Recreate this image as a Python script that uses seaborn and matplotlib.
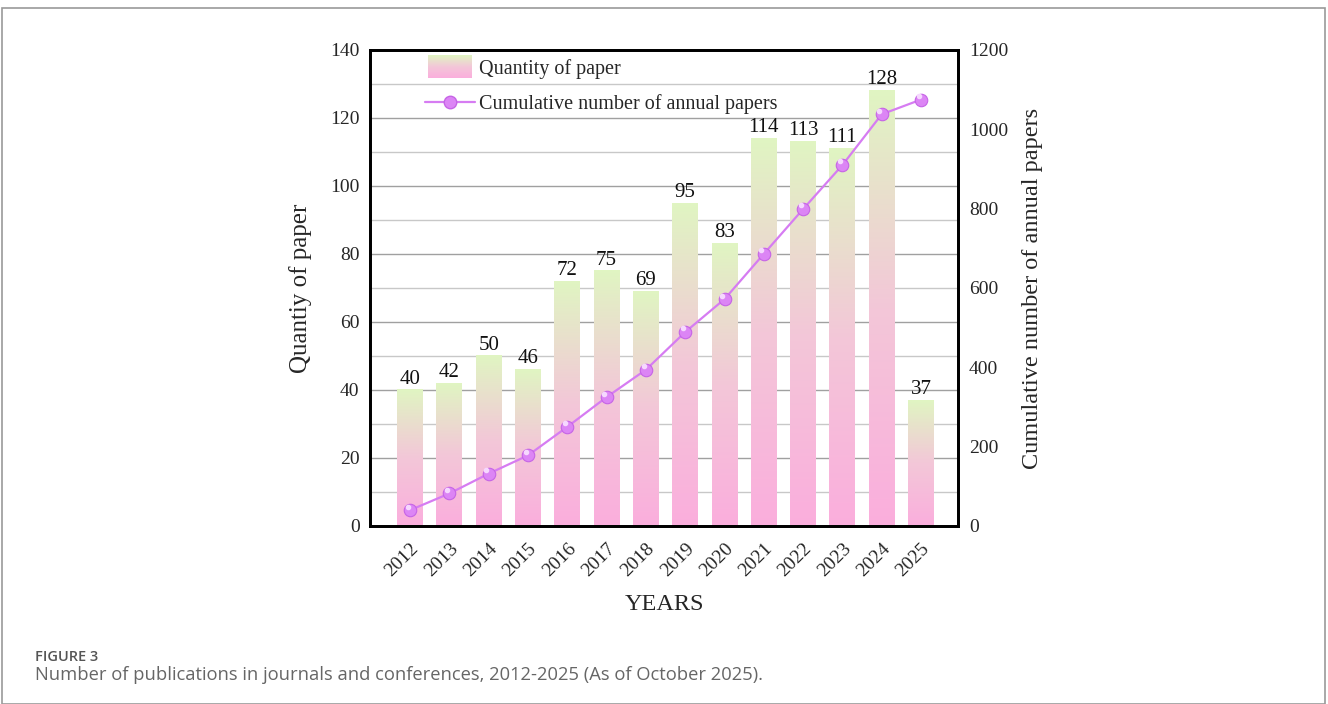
import numpy as np
import pandas as pd
import matplotlib
matplotlib.use("Agg")
import matplotlib.pyplot as plt
import seaborn as sns
from matplotlib.legend_handler import HandlerBase
from matplotlib.image import BboxImage
from matplotlib.transforms import Bbox, TransformedBbox
from matplotlib.patches import Patch, Rectangle
from matplotlib.lines import Line2D
from matplotlib.colors import LinearSegmentedColormap

years = ["2012", "2013", "2014", "2015", "2016", "2017", "2018",
         "2019", "2020", "2021", "2022", "2023", "2024", "2025"]
papers = [40, 42, 50, 46, 72, 75, 69, 95, 83, 114, 113, 111, 128, 37]
cumulative = [40, 82, 132, 178, 250, 325, 394, 489, 572, 686, 799, 910, 1038, 1075]

left_ticks = [0, 20, 40, 60, 80, 100, 120, 140]
right_ticks = [0, 200, 400, 600, 800, 1000, 1200]

sns.set_theme(style="white")
plt.rcParams["font.family"] = ["Liberation Serif", "DejaVu Serif"]

grad_cmap = LinearSegmentedColormap.from_list("g", ["#fbaedd", "#f3c7d8", "#e0f5c2"])
grad = np.linspace(0, 1, 256).reshape(-1, 1)

fig = plt.figure(figsize=(13.28, 7.04), dpi=100)
ax = fig.add_axes([370/1328, 1-526/704, 588/1328, 476/704])

df = pd.DataFrame({"year": years, "papers": papers})
sns.barplot(data=df, x="year", y="papers", ax=ax, width=0.66, color="#f0d0d8",
            saturation=1, zorder=2)
ax.set_xlim(-1.02, 13.94)
ax.set_ylim(0, 140)

for p in ax.patches:
    x0, y0 = p.get_x(), p.get_y()
    w, h = p.get_width(), p.get_height()
    ax.imshow(grad, extent=[x0, x0 + w, y0, y0 + h], origin="lower",
              cmap=grad_cmap, aspect="auto", zorder=2, interpolation="bilinear")
    p.set_facecolor("none")
    p.set_edgecolor("none")

ax.set_xlim(-1.02, 13.94)
ax.set_ylim(0, 140)
ax.set_yticks(left_ticks)
ax.set_yticks(np.arange(10, 140, 20), minor=True)
ax.grid(axis="y", which="major", color="#a0a0a0", lw=1.0, zorder=0)
ax.grid(axis="y", which="minor", color="#c8c8c8", lw=1.0, zorder=0)
ax.set_axisbelow(True)

for cont in ax.containers:
    ax.bar_label(cont, labels=[str(v) for v in papers], padding=1, fontsize=15, color="#111")

ax.set_xlabel("YEARS", fontsize=17.5, labelpad=10)
ax.set_ylabel("Quantiy of paper", fontsize=18, labelpad=13)
ax.tick_params(axis="y", which="major", labelsize=14, length=0, pad=7.5, color="black")
ax.tick_params(axis="y", which="minor", length=0)
ax.tick_params(axis="x", labelsize=14, length=0, pad=10)
for lab in ax.get_xticklabels():
    lab.set_rotation(45)
    lab.set_ha("right")
    lab.set_rotation_mode("anchor")
for s in ax.spines.values():
    s.set_color("black")
    s.set_linewidth(2)

ax2 = ax.twinx()
xs = np.arange(len(years))
sns.lineplot(x=xs, y=cumulative, ax=ax2, color="#d67cf2", lw=1.6, marker="o",
             markersize=9, markerfacecolor="#dc85f5", markeredgecolor="#c664e6",
             markeredgewidth=0.8, zorder=5)
ax2.plot(xs - 0.06, np.array(cumulative) + 9, ls="none", marker="o", markersize=3,
         color="#f6d8ff", zorder=6)
ax2.set_ylim(0, 1200)
ax2.set_yticks(right_ticks)
ax2.set_ylabel("Cumulative number of annual papers", fontsize=17.5, labelpad=10)
ax2.tick_params(axis="y", labelsize=14, length=0, pad=8, color="black")
for s in ax2.spines.values():
    s.set_color("black")
    s.set_linewidth(2)
ax2.set_xlim(-1.02, 13.94)
ax2.grid(False)


class GradHandler(HandlerBase):
    def create_artists(self, legend, orig_handle, xdescent, ydescent, width, height,
                       fontsize, trans):
        bb = TransformedBbox(Bbox.from_bounds(-xdescent + 0.07 * width, -ydescent - 3,
                                              0.86 * width, height + 6), trans)
        im = BboxImage(bb, cmap=grad_cmap, interpolation="bilinear", origin="lower")
        im.set_data(grad)
        return [im]


h1 = Patch(facecolor="#f0d0d8")
h2 = Line2D([], [], color="#d67cf2", lw=1.6, marker="o", markersize=9,
            markerfacecolor="#dc85f5", markeredgecolor="#c664e6")
leg = ax2.legend([h1, h2], ["Quantity of paper", "Cumulative number of annual papers"],
                 loc="upper left", bbox_to_anchor=(0.062, 1.019), frameon=False,
                 fontsize=14.5, handlelength=2.5, handletextpad=0.2, labelspacing=0.75,
                 handler_map={Patch: GradHandler()})
leg.set_zorder(10)

fig.patches.append(Rectangle((2/1328, 0), 1323/1328, 1-8/704, transform=fig.transFigure,
                             fill=False, edgecolor="#9a9a9a", lw=1.2))
fig.text(35/1328, 1-657/704, "FIGURE 3", fontsize=10.5, color="#555555",
         family=["Open Sans", "DejaVu Sans"], va="center", fontweight="semibold")
fig.text(35/1328, 1-675/704,
         "Number of publications in journals and conferences, 2012-2025 (As of October 2025).",
         fontsize=13.2, color="#666666", family=["Open Sans", "DejaVu Sans"], va="center")

fig.savefig("out.png", dpi=100, facecolor="white")
